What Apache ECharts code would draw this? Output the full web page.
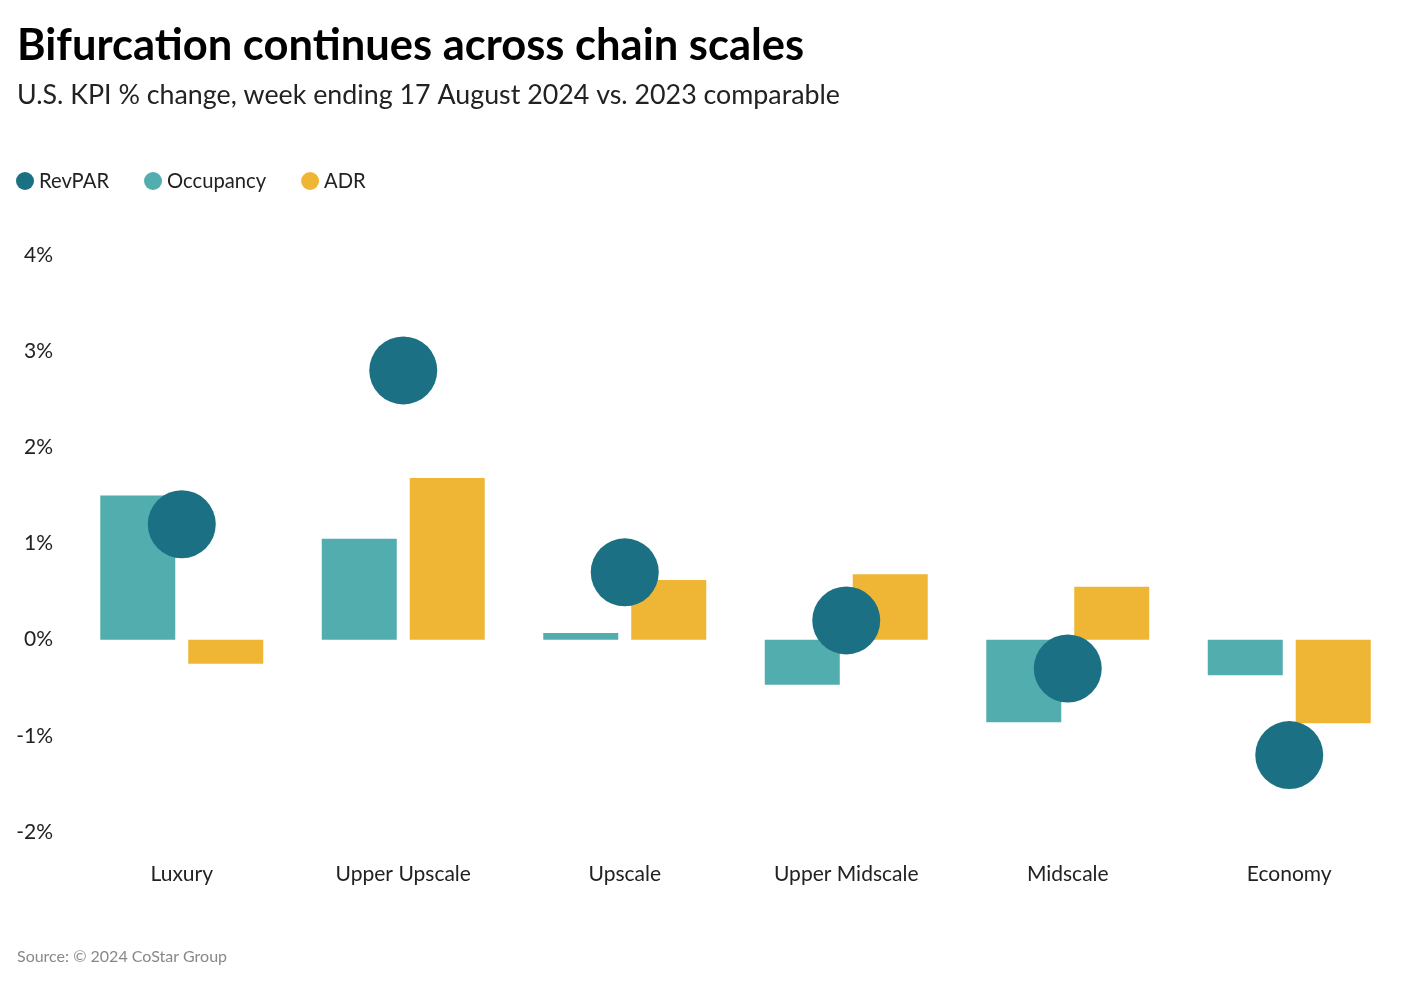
<!DOCTYPE html>
<html>
<head>
<meta charset="utf-8">
<script src="https://cdn.jsdelivr.net/npm/echarts@6/dist/echarts.min.js"></script>
<style>
html,body{margin:0;padding:0;background:#fff;}
#chart{width:1402px;height:986px;}
</style>
</head>
<body>
<div id="chart"></div>
<script>
const categories = ['Luxury', 'Upper Upscale', 'Upscale', 'Upper Midscale', 'Midscale', 'Economy'];
const revpar = [1.2, 2.8, 0.7, 0.2, -0.3, -1.2];
const occupancy = [1.5, 1.05, 0.07, -0.47, -0.86, -0.37];
const adr = [-0.25, 1.68, 0.62, 0.68, 0.55, -0.87];
const seriesNames = ['RevPAR', 'Occupancy', 'ADR'];
const colors = { RevPAR: '#1b7183', Occupancy: '#52aeae', ADR: '#efb636' };
const FONT = 'Lato, "Noto Sans", sans-serif';

const chart = echarts.init(document.getElementById('chart'), null, { renderer: 'canvas' });
chart.setOption({
  animation: false,
  backgroundColor: '#fff',
  title: [
    { text: 'Bifurcation continues across chain scales', left: 12, top: 19,
      textStyle: { fontFamily: FONT, fontSize: 43.5, fontWeight: 'bold', color: '#000' } },
    { text: 'U.S. KPI % change, week ending 17 August 2024 vs. 2023 comparable', left: 12, top: 77,
      textStyle: { fontFamily: FONT, fontSize: 26.8, fontWeight: 'normal', color: '#222' } },
    { text: 'Source: \u00a9 2024 CoStar Group', left: 12, top: 944,
      textStyle: { fontFamily: FONT, fontSize: 16, fontWeight: 'normal', color: '#888' } }
  ],
  legend: {
    data: seriesNames,
    left: 11, top: 166,
    icon: 'circle', itemWidth: 18, itemHeight: 18, itemGap: 35,
    textStyle: { fontFamily: FONT, fontSize: 20.2, color: '#222' }
  },
  grid: { left: 71, right: 2, top: 255, bottom: 154, containLabel: false },
  xAxis: {
    type: 'category', data: categories,
    axisLine: { show: false }, axisTick: { show: false },
    axisLabel: { fontFamily: FONT, fontSize: 21, color: '#222', margin: 32 }
  },
  yAxis: {
    type: 'value', min: -2, max: 4, interval: 1,
    splitLine: { show: false }, axisLine: { show: false }, axisTick: { show: false },
    axisLabel: { formatter: '{value}%', fontFamily: FONT, fontSize: 21, color: '#222', margin: 18 }
  },
  series: [
    { name: 'Occupancy', type: 'bar', data: occupancy, barWidth: 75, barGap: '17.3%',
      itemStyle: { color: colors.Occupancy }, z: 2 },
    { name: 'ADR', type: 'bar', data: adr, barWidth: 75, barGap: '17.3%',
      itemStyle: { color: colors.ADR }, z: 2 },
    { name: 'RevPAR', type: 'scatter', data: revpar, symbol: 'circle', symbolSize: 68,
      itemStyle: { color: colors.RevPAR, opacity: 1 }, z: 5 }
  ]
});
</script>
</body>
</html>
